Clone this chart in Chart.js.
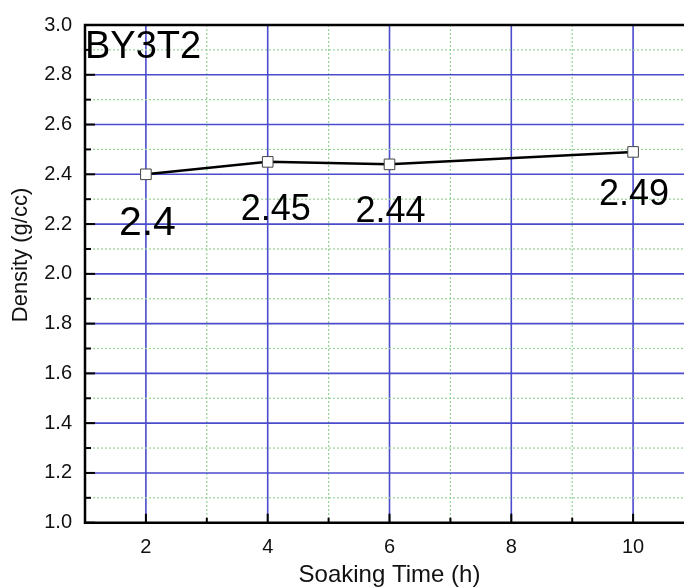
<!DOCTYPE html>
<html>
<head>
<meta charset="utf-8">
<script src="https://cdn.jsdelivr.net/npm/chart.js@4.4.0/dist/chart.umd.min.js"></script>
<style>
  html, body { margin: 0; padding: 0; background: #fff; overflow: hidden; }
  #wrap { position: relative; width: 720px; height: 587px; }
</style>
</head>
<body>
<div id="wrap"><canvas id="chart"></canvas></div>
<script>
// soaking time (h) and measured density (g/cc) for sample BY3T2
const soakHours = [2, 4, 6, 10];
const density = [2.4, 2.45, 2.44, 2.49];
const xTickValues = [1, 2, 3, 4, 5, 6, 7, 8, 9, 10, 11];
const yTickValues = [1.0, 1.1, 1.2, 1.3, 1.4, 1.5, 1.6, 1.7, 1.8, 1.9, 2.0,
  2.1, 2.2, 2.3, 2.4, 2.5, 2.6, 2.7, 2.8, 2.9, 3.0];
const sampleName = 'BY3T2';

const FONT = "'Liberation Sans', Arial, sans-serif";
const MAJOR_GRID = 'rgb(75,75,205)';
const MINOR_GRID = 'rgb(150,210,150)';

const isMajorX = (v) => Math.round(v) % 2 === 0;
const isMajorY = (v) => Math.round(v * 10) % 2 === 0;

// label offsets under each point (text is larger for the first one)
const labelStyle = [
  { dx: 1.5, dy: 61, size: 41 },
  { dx: 8, dy: 58.5, size: 36 },
  { dx: 1, dy: 58, size: 36 },
  { dx: 1, dy: 53.5, size: 36 },
];

// grid: solid blue on major ticks, dotted green on minor ticks
const gridLines = {
  id: 'gridLines',
  beforeDatasetsDraw(chart) {
    const { ctx, chartArea, scales } = chart;
    ctx.save();
    const line = (x1, y1, x2, y2, major) => {
      ctx.strokeStyle = major ? MAJOR_GRID : MINOR_GRID;
      ctx.lineWidth = major ? 1.6 : 1.2;
      ctx.setLineDash(major ? [] : [2, 2]);
      ctx.beginPath();
      ctx.moveTo(x1, y1);
      ctx.lineTo(x2, y2);
      ctx.stroke();
    };
    xTickValues.forEach((v) => {
      const px = scales.x.getPixelForValue(v);
      line(px, chartArea.top, px, chartArea.bottom, isMajorX(v));
    });
    yTickValues.forEach((v) => {
      const py = scales.y.getPixelForValue(v);
      line(chartArea.left, py, chartArea.right, py, isMajorY(v));
    });
    ctx.restore();
  }
};

const extras = {
  id: 'extras',
  afterDatasetsDraw(chart) {
    const { ctx, chartArea, scales } = chart;
    const xs = scales.x, ys = scales.y;
    ctx.save();

    // frame: left, bottom, top
    ctx.strokeStyle = '#000';
    ctx.lineWidth = 2.5;
    ctx.beginPath();
    ctx.moveTo(chartArea.right, chartArea.top);
    ctx.lineTo(chartArea.left, chartArea.top);
    ctx.lineTo(chartArea.left, chartArea.bottom);
    ctx.lineTo(chartArea.right, chartArea.bottom);
    ctx.stroke();

    // inward tick marks
    ctx.lineWidth = 2;
    xTickValues.forEach((v) => {
      const px = xs.getPixelForValue(v);
      const len = isMajorX(v) ? 9 : 5;
      ctx.beginPath();
      ctx.moveTo(px, chartArea.bottom);
      ctx.lineTo(px, chartArea.bottom - len);
      ctx.stroke();
    });
    yTickValues.forEach((v) => {
      const py = ys.getPixelForValue(v);
      const len = isMajorY(v) ? 10 : 6;
      ctx.beginPath();
      ctx.moveTo(chartArea.left, py);
      ctx.lineTo(chartArea.left + len, py);
      ctx.stroke();
    });

    // value labels
    const meta = chart.getDatasetMeta(0);
    ctx.fillStyle = '#000';
    ctx.textAlign = 'center';
    ctx.textBaseline = 'alphabetic';
    meta.data.forEach((pt, i) => {
      const s = labelStyle[i];
      ctx.font = s.size + 'px ' + FONT;
      ctx.fillText(String(density[i]), pt.x + s.dx, pt.y + s.dy);
    });

    // sample name
    ctx.textAlign = 'left';
    ctx.font = '38px ' + FONT;
    ctx.fillText(sampleName, chartArea.left, 58);

    // y axis title
    ctx.save();
    ctx.translate(21, 255);
    ctx.rotate(-Math.PI / 2);
    ctx.textAlign = 'center';
    ctx.textBaseline = 'middle';
    ctx.font = '22px ' + FONT;
    ctx.fillStyle = '#111';
    ctx.fillText('Density (g/cc)', 0, 0);
    ctx.restore();

    ctx.restore();
  }
};

new Chart(document.getElementById('chart'), {
  type: 'line',
  data: {
    datasets: [{
      data: soakHours.map((h, i) => ({ x: h, y: density[i] })),
      borderColor: '#000',
      borderWidth: 2.5,
      pointStyle: 'rect',
      pointRadius: 7.5,
      pointBorderWidth: 1,
      pointBorderColor: '#444',
      pointBackgroundColor: '#fff',
      tension: 0,
    }],
  },
  options: {
    responsive: true,
    maintainAspectRatio: false,
    animation: false,
    events: [],
    layout: { padding: { top: 22.7, right: 26, left: 0, bottom: 0 } },
    plugins: { legend: { display: false }, tooltip: { enabled: false } },
    scales: {
      x: {
        type: 'linear',
        min: 1,
        max: 11,
        afterBuildTicks: (scale) => { scale.ticks = xTickValues.map((v) => ({ value: v })); },
        afterFit: (scale) => { scale.height = 587 - 522.7; },
        ticks: {
          autoSkip: false,
          maxRotation: 0,
          padding: 13,
          color: '#111',
          font: { family: FONT, size: 20 },
          callback: (v) => (isMajorX(v) && v >= 2 && v <= 10 ? String(v) : ''),
        },
        grid: { display: false, drawTicks: false },
        border: { display: false },
        title: {
          display: true,
          text: 'Soaking Time (h)',
          color: '#111',
          font: { family: FONT, size: 24, lineHeight: 1 },
          padding: 0,
        },
      },
      y: {
        type: 'linear',
        min: 1,
        max: 3,
        afterBuildTicks: (scale) => { scale.ticks = yTickValues.map((v) => ({ value: v })); },
        afterFit: (scale) => { scale.width = 85; },
        ticks: {
          autoSkip: false,
          padding: 13,
          color: '#111',
          font: { family: FONT, size: 20 },
          callback: (v) => (isMajorY(v) ? Number(v).toFixed(1) : ''),
        },
        grid: { display: false, drawTicks: false },
        border: { display: false },
      },
    },
  },
  plugins: [gridLines, extras],
});
</script>
</body>
</html>
